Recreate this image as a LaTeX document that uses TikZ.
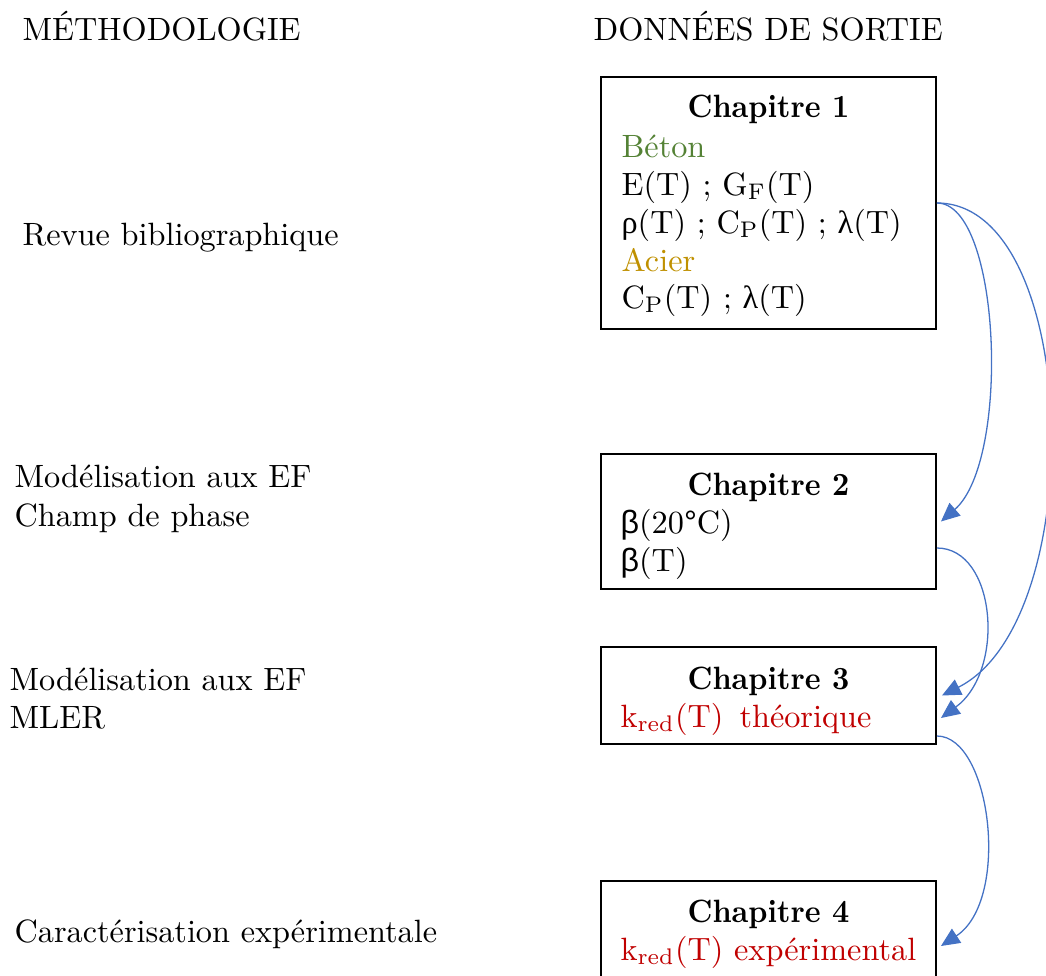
\documentclass[tikz,border=0pt]{standalone}
\usepackage{fontspec}
\setmainfont{Latin Modern Roman}
\newfontfamily\grkserif{Liberation Serif}
\newfontfamily\grksans{Liberation Sans}
\usetikzlibrary{arrows.meta,calc}
\definecolor{betongreen}{HTML}{548235}
\definecolor{aciergold}{HTML}{BF9000}
\definecolor{kred}{HTML}{C00000}
\definecolor{arrowblue}{HTML}{4472C4}
\newcommand{\chaphead}[1]{\scalebox{0.93}[1]{\bfseries #1}}
\begin{document}
\begin{tikzpicture}[x=0.31pt,y=-0.31pt,
  every node/.style={font=\fontsize{10}{11.8}\selectfont},
  txt/.style={anchor=base west,inner sep=0pt},
  hd/.style={anchor=base,inner sep=0pt},
  chbox/.style={draw=black,line width=0.6pt,minimum width=335*0.31pt,inner sep=0pt},
  conn/.style={draw=arrowblue,line width=0.4pt,-{Triangle[length=5.8pt,width=5.2pt]}}]
\useasboundingbox (0,0) rectangle (1046,976);

% column titles
\node[txt] (tm) at (22,40) {MÉTHODOLOGIE};
\node[txt] (td) at (593,40) {DONNÉES DE SORTIE};

% methodology labels
\node[txt] (m1) at (22,245) {Revue bibliographique};
\node[txt] (m2a) at (14,487) {Modélisation aux EF};
\node[txt] (m2b) at (14,526) {Champ de phase};
\node[txt] (m3a) at (9,690) {Modélisation aux EF};
\node[txt] (m3b) at (9,728) {MLER};
\node[txt] (m4) at (14,942) {Caractérisation expérimentale};

% boxes
\node[chbox,minimum height=252*0.31pt] (b1) at (768.5,203) {};
\node[chbox,minimum height=135*0.31pt] (b2) at (768.5,521.5) {};
\node[chbox,minimum height=97*0.31pt] (b3) at (768.5,695.5) {};
\node[chbox,minimum height=120*0.31pt] (b4) at (768.5,941) {};

% box 1 text
\node[hd] (h1) at (768.5,117) {\chaphead{Chapitre 1}};
\node[txt,text=betongreen] (l1a) at (621,157) {Béton};
\node[txt] (l1b) at (621,195) {E(T) ; G$_{\mathrm{F}}$(T)};
\node[txt] (l1c) at (621,233) {{\grkserif ρ}(T) ; C$_{\mathrm{P}}$(T) ; {\grkserif λ}(T)};
\node[txt,text=aciergold] (l1d) at (621,271) {Acier};
\node[txt] (l1e) at (621,308) {C$_{\mathrm{P}}$(T) ; {\grkserif λ}(T)};

% box 2 text
\node[hd] (h2) at (768.5,495) {\chaphead{Chapitre 2}};
\node[txt] (l2a) at (620,533) {{\grksans β}(20{\grksans °}C)};
\node[txt] (l2b) at (620,571) {{\grksans β}(T)};

% box 3 text
\node[hd] (h3) at (768.5,689) {\chaphead{Chapitre 3}};
\node[txt,text=kred] (l3a) at (620,727) {k$_{\mathrm{red}}$(T)\hspace{0.5em}théorique};

% box 4 text
\node[hd] (h4) at (768.5,922) {\chaphead{Chapitre 4}};
\node[txt,text=kred] (l4a) at (620,960) {k$_{\mathrm{red}}$(T) expérimental};

% connector end points
\coordinate (s1) at (b1.east);
\coordinate (e12) at ($(b2.east)+(4,0)$);
\coordinate (e13) at ($(b3.east)+(5,0)$);
\coordinate (s2) at ($(b2.east)+(0,26.5)$);
\coordinate (e23) at ($(b3.east)+(4,22.5)$);
\coordinate (s3) at ($(b3.east)+(0,40.5)$);
\coordinate (e34) at ($(b4.east)+(4,5)$);

% connectors
\draw[conn] (s1) .. controls ($(s1)+(64,0)$) and ($(e12)+(70,-61)$) .. (e12);
\draw[conn] (s1) .. controls ($(s1)+(144,0)$) and ($(e13)+(149,-75)$) .. (e13);
\draw[conn] (s2) .. controls ($(s2)+(59,0)$) and ($(e23)+(65,-48)$) .. (e23);
\draw[conn] (s3) .. controls ($(s3)+(54,0)$) and ($(e34)+(70,-46)$) .. (e34);
\end{tikzpicture}
\end{document}
